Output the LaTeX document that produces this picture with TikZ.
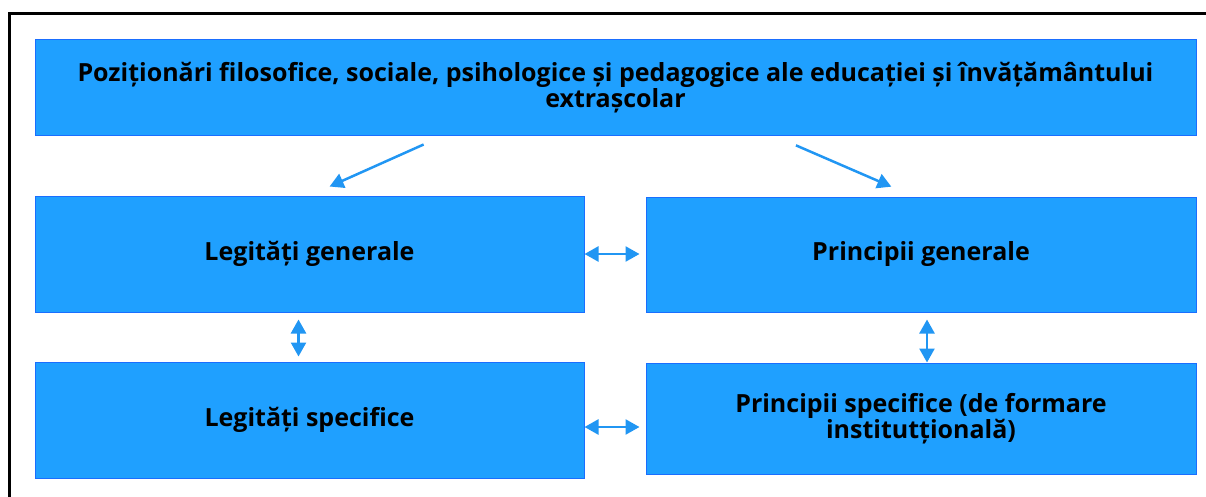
\documentclass[tikz,border=0pt]{standalone}
\usepackage{fontspec}
\setmainfont{Open Sans}
\usetikzlibrary{arrows.meta}
\definecolor{boxblue}{RGB}{31,160,255}
\definecolor{edgeblue}{RGB}{26,110,255}
\definecolor{arrowblue}{RGB}{33,150,243}
\tikzset{
  box/.style={draw=edgeblue, line width=1pt, fill=boxblue, align=center,
    inner sep=0pt, font=\bfseries\fontsize{25}{26}\selectfont},
  arr/.style={arrowblue, line width=2.5pt, -{Triangle[length=14pt,width=15pt]}},
  darr/.style={arrowblue, line width=2.5pt, {Triangle[length=14pt,width=15pt]}-{Triangle[length=14pt,width=15pt]}}
}
\begin{document}
\begin{tikzpicture}[x=1pt,y=-1pt]
  \useasboundingbox (0,0) rectangle (1206,497);
  % frame
  \draw[line width=3pt] (9.5,520) -- (9.5,13.5) -- (1230,13.5);

  % top box
  \node[box, minimum width=1161pt, minimum height=96pt] (top) at (615.5,88)
    {Poziționări filosofice, sociale, psihologice și pedagogice ale educației și învățământului\\ extrașcolar};

  % laws and principles
  \node[box, minimum width=549pt, minimum height=116pt] (lg) at (309.5,254) {Legități generale};
  \node[box, minimum width=550pt, minimum height=115pt] (pg) at (921,254.5) {Principii generale};
  \node[box, minimum width=549pt, minimum height=116pt] (ls) at (309.5,420) {Legități specifice};
  \node[box, minimum width=550pt, minimum height=111pt] (ps) at (921,418.5)
    {Principii specifice (de formare\\ institutțională)};

  % Arrows
  \draw[arr, shorten <=19.6pt, shorten >=22pt] ([xshift=-174pt]top.south) -- (lg.north);
  \draw[arr, shorten <=22.3pt, shorten >=24.7pt] ([xshift=160pt]top.south) -- ([xshift=-7pt]pg.north);
  \draw[darr, shorten >=6pt] (lg.east) -- (lg.east -| pg.west);
  \draw[darr, shorten >=6pt] ([yshift=-7pt]ls.east) -- ([yshift=-7pt]ls.east -| ps.west);
  \draw[darr, shorten <=7pt, shorten >=5pt] ([xshift=-11pt]lg.south) -- ([xshift=-11pt]lg.south |- ls.north);
  \draw[darr, shorten <=7pt] ([xshift=6pt]pg.south) -- ([xshift=6pt]pg.south |- ps.north);
\end{tikzpicture}
\end{document}
